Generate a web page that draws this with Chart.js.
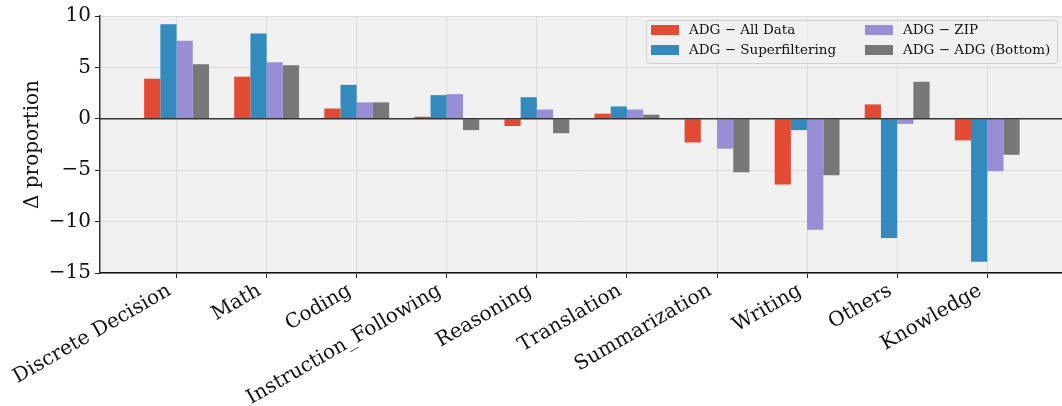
<!DOCTYPE html>
<html>
<head>
<meta charset="utf-8">
<script src="https://cdn.jsdelivr.net/npm/chart.js@4.4.1/dist/chart.umd.min.js"></script>
<style>
  body { margin: 0; background: #fff; }
  #wrap { width: 1062px; height: 406px; }
</style>
</head>
<body>
<div id="wrap"><canvas id="chart"></canvas></div>
<script>
// Categories and per-series deltas
const categories = ["Discrete Decision", "Math", "Coding", "Instruction_Following", "Reasoning",
  "Translation", "Summarization", "Writing", "Others", "Knowledge"];
const allData        = [3.9, 4.1, 1.0, 0.2, -0.7, 0.5, -2.3, -6.4, 1.4, -2.1];
const superfiltering = [9.2, 8.3, 3.3, 2.3, 2.1, 1.2, 0.0, -1.1, -11.6, -13.9];
const zip            = [7.6, 5.5, 1.6, 2.4, 0.9, 0.9, -2.9, -10.8, -0.5, -5.1];
const adgBottom      = [5.3, 5.2, 1.6, -1.1, -1.4, 0.4, -5.2, -5.5, 3.6, -3.5];
const seriesNames = ["ADG \u2212 All Data", "ADG \u2212 Superfiltering", "ADG \u2212 ZIP", "ADG \u2212 ADG (Bottom)"];
const yTicks = [-15, -10, -5, 0, 5, 10];

const colors = ["#E24A33", "#348ABD", "#988ED5", "#777777"];
const serif = "'DejaVu Serif', serif";

function toPoints(values) {
  return values.map((v, i) => ({ x: i, y: v }));
}

// plot background + zero line + matplotlib-style legend box
const decorPlugin = {
  id: "decor",
  beforeDraw(chart) {
    const { ctx, chartArea: a } = chart;
    ctx.save();
    ctx.fillStyle = "#f0f0f0";
    ctx.fillRect(a.left, a.top, a.right - a.left, a.bottom - a.top);
    ctx.strokeStyle = "#dcdcdc";
    ctx.lineWidth = 1;
    ctx.beginPath();
    ctx.moveTo(a.left, a.top + 0.5);
    ctx.lineTo(a.right, a.top + 0.5);
    ctx.stroke();
    ctx.restore();
  },
  afterDatasetsDraw(chart) {
    const { ctx, chartArea: a } = chart;
    const y0 = chart.scales.y.getPixelForValue(0);
    ctx.save();
    ctx.strokeStyle = "#333";
    ctx.lineWidth = 1.5;
    ctx.beginPath();
    ctx.moveTo(a.left, y0);
    ctx.lineTo(a.right, y0);
    ctx.stroke();

    // legend, two columns filled top-down
    const bx = 646, by = 20, bw = 411, bh = 43;
    ctx.fillStyle = "rgba(240,240,240,0.85)";
    ctx.strokeStyle = "#d0d0d0";
    ctx.lineWidth = 1;
    ctx.beginPath();
    ctx.roundRect(bx + 0.5, by + 0.5, bw, bh, 3);
    ctx.fill();
    ctx.stroke();
    ctx.font = "13.5px " + serif;
    ctx.textBaseline = "middle";
    ctx.textAlign = "left";
    chart.data.datasets.forEach((ds, i) => {
      const col = Math.floor(i / 2), row = i % 2;
      const sx = bx + 5 + col * 214;
      const sy = by + 5 + row * 20;
      ctx.fillStyle = ds.backgroundColor;
      ctx.fillRect(sx, sy, 28, 10);
      ctx.fillStyle = "#111";
      ctx.fillText(ds.label, sx + 38, sy + 5.5);
    });
    ctx.restore();
  }
};

new Chart(document.getElementById("chart"), {
  type: "bar",
  data: {
    datasets: [allData, superfiltering, zip, adgBottom].map((vals, i) => ({
      label: seriesNames[i],
      data: toPoints(vals),
      backgroundColor: colors[i],
      borderWidth: 0,
      categoryPercentage: 0.72,
      barPercentage: 1.0
    }))
  },
  options: {
    responsive: true,
    maintainAspectRatio: false,
    animation: false,
    layout: { padding: { top: 12, right: 0, left: 0, bottom: 0 } },
    plugins: {
      legend: { display: false },
      tooltip: { enabled: false }
    },
    scales: {
      x: {
        type: "linear",
        min: -0.85,
        max: 9.83,
        offset: false,
        afterBuildTicks: (scale) => {
          scale.ticks = categories.map((_, i) => ({ value: i }));
        },
        afterFit: (scale) => { scale.height = 133; },
        grid: {
          offset: false,
          color: "#dcdcdc",
          lineWidth: 1,
          drawTicks: true,
          tickColor: "#222",
          tickLength: 5
        },
        border: { color: "#111", width: 1.5 },
        ticks: {
          autoSkip: false,
          minRotation: 30,
          maxRotation: 30,
          padding: 1,
          labelOffset: -7,
          color: "#111",
          font: { family: serif, size: 20 },
          callback: (v) => categories[v]
        }
      },
      y: {
        min: -15,
        max: 10,
        afterBuildTicks: (scale) => {
          scale.ticks = yTicks.map(v => ({ value: v }));
        },
        afterFit: (scale) => { scale.width = 100; },
        grid: {
          color: "#dcdcdc",
          lineWidth: 1,
          tickColor: "#222",
          tickLength: 5
        },
        border: { color: "#333", width: 1.5 },
        ticks: {
          padding: 4,
          color: "#111",
          font: { family: serif, size: 20 },
          callback: (v) => (v < 0 ? "\u2212" + Math.abs(v) : String(v))
        },
        title: {
          display: true,
          text: "\u0394 proportion",
          color: "#111",
          font: { family: serif, size: 20 },
          padding: { top: 21, bottom: 0 }
        }
      }
    }
  },
  plugins: [decorPlugin]
});
</script>
</body>
</html>
